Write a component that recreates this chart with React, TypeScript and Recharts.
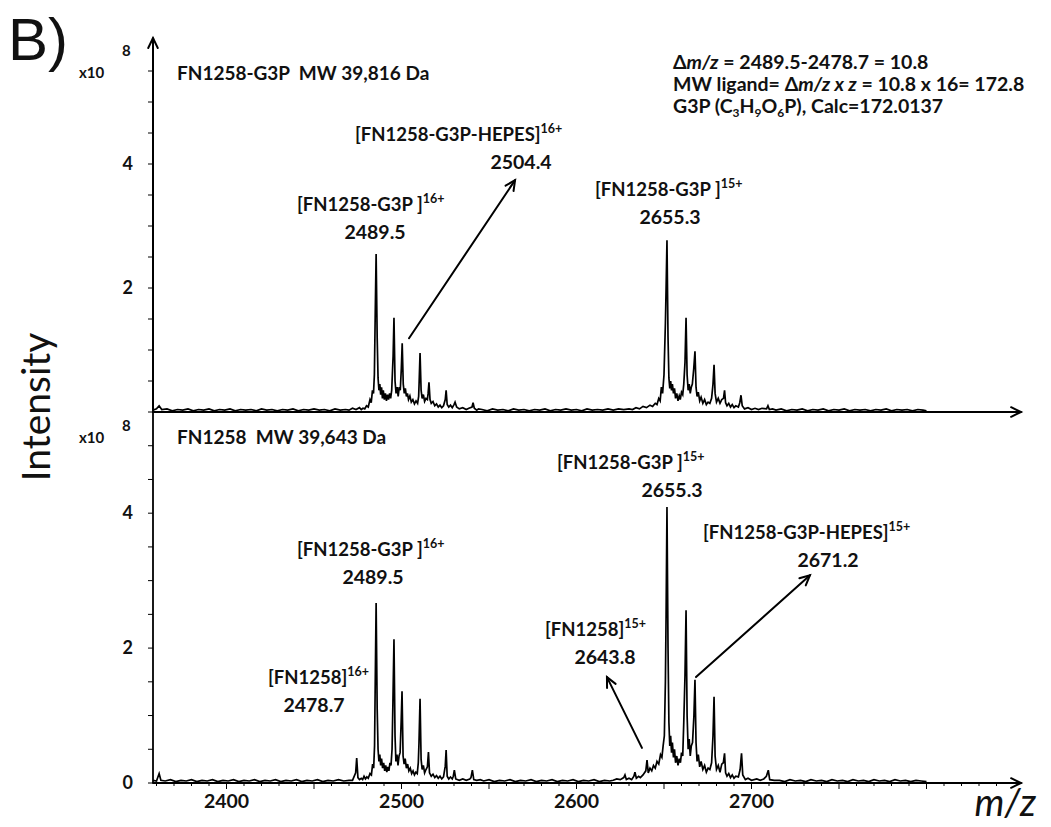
import { Line, LineChart, ReferenceLine, XAxis, YAxis } from "recharts";

// m/z axis
const X_DOMAIN = [2358, 2854];
const X_LABELS = [2400, 2500, 2600, 2700];
const X_MINOR_START = 2360;
const X_MINOR_END = 2840;

// intensity axes (x10^8)
const TOP_Y_DOMAIN = [0, 6];
const TOP_Y_LABELS = [2, 4];
const BOTTOM_Y_DOMAIN = [0, 5.5];
const BOTTOM_Y_LABELS = [0, 2, 4];

// FN1258-G3P spectrum, [m/z, intensity x10^8]
const topNoiseLeft = [
  [2358, 0.03], [2360, 0.05], [2361.5, 0.1], [2363, 0.04], [2366, 0.05], [2369, 0.02], [2372, 0.04],
  [2375, 0.03], [2378, 0.05], [2381, 0.02], [2384, 0.04], [2387, 0.03], [2390, 0.05], [2393, 0.02],
  [2396, 0.04], [2399, 0.03], [2402, 0.05], [2405, 0.02], [2408, 0.04], [2411, 0.03], [2414, 0.04],
  [2417, 0.02], [2420, 0.05], [2423, 0.03], [2426, 0.04], [2429, 0.02], [2432, 0.04], [2435, 0.03],
  [2438, 0.05], [2441, 0.02], [2444, 0.04], [2447, 0.03], [2450, 0.05], [2453, 0.03], [2456, 0.04],
  [2459, 0.02], [2462, 0.05], [2465, 0.03], [2468, 0.04],
];
const topCluster16 = [
  [2470, 0.03], [2472, 0.06], [2474, 0.04], [2476, 0.07], [2477, 0.04], [2478, 0.06], [2479, 0.05],
  [2480, 0.1], [2481, 0.08], [2482, 0.2], [2482.7, 0.15], [2483.4, 0.35], [2484, 0.3], [2484.5, 0.6],
  [2485, 1.6], [2485.5, 2.55], [2486.1, 1.2], [2486.6, 0.55], [2487.1, 0.35], [2487.6, 0.45],
  [2488.1, 0.28], [2488.6, 0.4], [2489.1, 0.22], [2489.6, 0.35], [2490.2, 0.2], [2490.8, 0.3],
  [2491.4, 0.18], [2492, 0.28], [2492.6, 0.2], [2493.2, 0.3], [2493.8, 0.22], [2494.4, 0.35],
  [2495.2, 0.9], [2495.7, 1.52], [2496.3, 0.5], [2496.9, 0.3], [2497.5, 0.4], [2498.1, 0.25],
  [2498.7, 0.4], [2499.3, 0.35], [2499.9, 0.7], [2500.4, 1.11], [2501, 0.45], [2501.6, 0.3],
  [2502.2, 0.38], [2502.8, 0.25], [2503.4, 0.3], [2504, 0.2], [2504.8, 0.26], [2505.6, 0.16],
  [2506.5, 0.2], [2507.4, 0.13], [2508.3, 0.18], [2509.2, 0.14], [2509.8, 0.25], [2510.1, 0.5],
  [2510.6, 0.95], [2511.2, 0.35], [2511.8, 0.22], [2512.5, 0.28], [2513.2, 0.17], [2514, 0.22],
  [2514.8, 0.2], [2515.2, 0.3], [2515.7, 0.48], [2516.3, 0.2], [2517, 0.14], [2518, 0.17],
  [2519, 0.1], [2520, 0.13], [2521, 0.08], [2522, 0.11], [2523, 0.07], [2524, 0.1], [2525, 0.2],
  [2525.5, 0.35], [2526.1, 0.12], [2527, 0.08], [2528, 0.11], [2529, 0.07], [2530, 0.12],
  [2530.6, 0.16], [2531.5, 0.08], [2533, 0.05], [2535, 0.07], [2537, 0.04], [2538.5, 0.06],
  [2540.3, 0.08], [2540.9, 0.15], [2541.6, 0.06], [2543, 0.03], [2544, 0.05],
];
const topNoiseMid = [
  [2546, 0.04], [2549, 0.02], [2552, 0.05], [2555, 0.03], [2558, 0.04], [2561, 0.02], [2564, 0.05],
  [2567, 0.03], [2570, 0.04], [2573, 0.02], [2576, 0.04], [2579, 0.03], [2582, 0.05], [2585, 0.02],
  [2588, 0.04], [2591, 0.03], [2594, 0.05], [2597, 0.03], [2600, 0.04], [2603, 0.02], [2606, 0.05],
  [2609, 0.03], [2612, 0.04], [2615, 0.03], [2618, 0.05], [2621, 0.03], [2624, 0.05], [2627, 0.04],
];
const topCluster15 = [
  [2630, 0.05], [2632, 0.04], [2634, 0.07], [2636, 0.05], [2638, 0.09], [2640, 0.07], [2642, 0.11],
  [2643.5, 0.09], [2645, 0.14], [2646, 0.12], [2647, 0.22], [2647.8, 0.18], [2648.5, 0.4],
  [2649.2, 0.3], [2650, 0.6], [2650.8, 1.43], [2651.2, 2.0], [2651.7, 2.77], [2652.3, 1.2],
  [2652.8, 0.55], [2653.3, 0.38], [2653.8, 0.5], [2654.3, 0.35], [2654.8, 0.45], [2655.4, 0.3],
  [2656, 0.38], [2656.6, 0.22], [2657.3, 0.3], [2658, 0.18], [2658.7, 0.26], [2659.3, 0.2],
  [2660, 0.32], [2660.7, 0.28], [2661.3, 0.45], [2662, 0.8], [2662.6, 1.52], [2663.2, 0.6],
  [2663.8, 0.35], [2664.4, 0.45], [2665, 0.3], [2665.6, 0.4], [2666.2, 0.45], [2667, 0.7],
  [2667.7, 0.98], [2668.3, 0.4], [2668.9, 0.25], [2669.6, 0.32], [2670.4, 0.18], [2671.2, 0.24],
  [2672.2, 0.14], [2673.2, 0.2], [2674.2, 0.12], [2675.2, 0.16], [2676.2, 0.14], [2677.2, 0.22],
  [2678, 0.45], [2678.6, 0.76], [2679.2, 0.3], [2680, 0.16], [2681, 0.22], [2682, 0.14],
  [2683, 0.2], [2684, 0.22], [2684.6, 0.35], [2685.2, 0.15], [2686, 0.1], [2687, 0.14], [2688, 0.08],
  [2689, 0.12], [2690, 0.07], [2691, 0.1], [2692.5, 0.08], [2693.3, 0.15], [2694, 0.27],
  [2694.7, 0.1], [2696, 0.05], [2698, 0.07], [2700, 0.04], [2702, 0.06], [2704, 0.04], [2706, 0.06],
  [2708.6, 0.05], [2709.4, 0.1], [2710.2, 0.04], [2712, 0.05],
];
const topNoiseRight = [
  [2714, 0.03], [2717, 0.05], [2720, 0.02], [2723, 0.04], [2726, 0.03], [2729, 0.05], [2732, 0.02],
  [2735, 0.04], [2738, 0.03], [2741, 0.05], [2744, 0.02], [2747, 0.04], [2750, 0.03], [2753, 0.05],
  [2756, 0.02], [2759, 0.04], [2762, 0.03], [2765, 0.04], [2768, 0.02], [2771, 0.04], [2774, 0.03],
  [2777, 0.05], [2780, 0.02], [2783, 0.04], [2786, 0.03], [2789, 0.04], [2792, 0.02], [2795, 0.04],
  [2798, 0.03], [2800, 0.02],
];

// FN1258 spectrum
const bottomNoiseLeft = [
  [2358, 0.04], [2360, 0.03], [2361.5, 0.14], [2362.5, 0.04], [2365, 0.03], [2368, 0.05], [2371, 0.02],
  [2374, 0.04], [2377, 0.03], [2380, 0.05], [2383, 0.02], [2386, 0.04], [2389, 0.03], [2392, 0.05],
  [2395, 0.02], [2398, 0.04], [2401, 0.03], [2404, 0.05], [2407, 0.02], [2410, 0.04], [2413, 0.03],
  [2416, 0.05], [2419, 0.02], [2422, 0.04], [2425, 0.03], [2428, 0.05], [2431, 0.02], [2434, 0.04],
  [2437, 0.03], [2440, 0.05], [2443, 0.02], [2446, 0.04], [2449, 0.03], [2452, 0.05], [2455, 0.02],
  [2458, 0.04], [2461, 0.03], [2464, 0.05], [2467, 0.03], [2470, 0.04],
];
const bottomCluster16 = [
  [2472, 0.04], [2473.8, 0.15], [2474.4, 0.37], [2475.1, 0.08], [2476, 0.05], [2477, 0.07],
  [2477.8, 0.05], [2478.6, 0.1], [2479.4, 0.06], [2480.2, 0.09], [2481, 0.07], [2482, 0.14],
  [2482.8, 0.12], [2483.5, 0.28], [2484.1, 0.22], [2484.6, 0.55], [2485, 1.5], [2485.5, 2.67],
  [2486.1, 1.1], [2486.6, 0.5], [2487.1, 0.32], [2487.6, 0.42], [2488.1, 0.26], [2488.6, 0.36],
  [2489.2, 0.22], [2489.8, 0.3], [2490.4, 0.18], [2491, 0.26], [2491.6, 0.16], [2492.2, 0.24],
  [2492.8, 0.18], [2493.4, 0.3], [2494, 0.26], [2494.6, 0.5], [2495.1, 1.2], [2495.7, 2.13],
  [2496.3, 0.7], [2496.8, 0.32], [2497.4, 0.42], [2498, 0.26], [2498.6, 0.4], [2499.2, 0.45],
  [2499.8, 0.9], [2500.3, 1.36], [2500.9, 0.4], [2501.5, 0.28], [2502.1, 0.36], [2502.8, 0.22],
  [2503.5, 0.28], [2504.2, 0.18], [2505, 0.22], [2505.8, 0.14], [2506.6, 0.18], [2507.4, 0.12],
  [2508.2, 0.16], [2509, 0.14], [2509.6, 0.3], [2510, 0.6], [2510.6, 1.25], [2511.2, 0.35],
  [2511.8, 0.2], [2512.5, 0.26], [2513.2, 0.15], [2514, 0.2], [2514.8, 0.24], [2515.4, 0.46],
  [2516, 0.15], [2517, 0.1], [2518, 0.13], [2519, 0.08], [2520, 0.11], [2521, 0.07], [2522, 0.1],
  [2523, 0.06], [2524, 0.09], [2525, 0.25], [2525.5, 0.49], [2526.1, 0.1], [2527, 0.06],
  [2528, 0.09], [2529, 0.06], [2529.6, 0.1], [2530.2, 0.19], [2531, 0.06], [2533, 0.04],
  [2535, 0.06], [2537, 0.04], [2539, 0.06], [2539.7, 0.08], [2540.5, 0.19], [2541.3, 0.05],
  [2543, 0.04], [2545, 0.05],
];
const bottomNoiseMid = [
  [2547, 0.03], [2550, 0.05], [2553, 0.02], [2556, 0.04], [2559, 0.03], [2562, 0.05], [2565, 0.02],
  [2568, 0.04], [2571, 0.03], [2574, 0.05], [2577, 0.02], [2580, 0.04], [2583, 0.03], [2586, 0.05],
  [2589, 0.02], [2592, 0.04], [2595, 0.03], [2598, 0.05], [2601, 0.02], [2604, 0.04], [2607, 0.03],
  [2610, 0.05], [2613, 0.02], [2616, 0.04], [2619, 0.03],
];
const bottomCluster15 = [
  [2621, 0.04], [2623, 0.06], [2625, 0.05], [2627, 0.08], [2627.7, 0.12], [2628.5, 0.05],
  [2630, 0.07], [2631.5, 0.05], [2632.8, 0.1], [2633.4, 0.16], [2634.2, 0.07], [2635.5, 0.1],
  [2636.5, 0.08], [2638, 0.12], [2639.6, 0.18], [2640.3, 0.34], [2641, 0.15], [2642, 0.22],
  [2643, 0.18], [2644, 0.26], [2645, 0.22], [2646, 0.32], [2647, 0.28], [2648, 0.42],
  [2648.8, 0.38], [2649.5, 0.55], [2650.2, 0.7], [2650.8, 1.5], [2651.2, 2.5], [2651.7, 4.09],
  [2652.3, 2.0], [2652.8, 0.9], [2653.3, 0.55], [2653.8, 0.7], [2654.3, 0.45], [2654.8, 0.6],
  [2655.4, 0.38], [2656, 0.5], [2656.6, 0.3], [2657.3, 0.4], [2658, 0.26], [2658.7, 0.36],
  [2659.4, 0.3], [2660, 0.45], [2660.7, 0.4], [2661.3, 0.9], [2662, 1.6], [2662.6, 2.56],
  [2663.2, 1.0], [2663.8, 0.5], [2664.4, 0.65], [2665, 0.4], [2665.6, 0.55], [2666.3, 0.6],
  [2667.1, 1.0], [2667.7, 1.53], [2668.3, 0.6], [2668.9, 0.32], [2669.6, 0.42], [2670.4, 0.24],
  [2671.2, 0.32], [2672.2, 0.2], [2673.2, 0.26], [2674.2, 0.16], [2675.2, 0.22], [2676.2, 0.2],
  [2677.2, 0.3], [2678, 0.7], [2678.6, 1.28], [2679.2, 0.4], [2680, 0.2], [2681, 0.26],
  [2682, 0.16], [2683, 0.28], [2683.9, 0.3], [2684.6, 0.44], [2685.2, 0.15], [2686, 0.1],
  [2687, 0.14], [2688, 0.08], [2689, 0.12], [2690, 0.07], [2691, 0.1], [2692.5, 0.09],
  [2693.5, 0.2], [2694.3, 0.44], [2695, 0.12], [2696.5, 0.05], [2698, 0.07], [2700, 0.04],
  [2703, 0.06], [2705, 0.04], [2707, 0.06], [2708.5, 0.1], [2709.6, 0.19], [2710.4, 0.05],
  [2713, 0.04],
];
const bottomNoiseRight = [
  [2716, 0.04], [2719, 0.02], [2722, 0.05], [2725, 0.03], [2728, 0.04], [2731, 0.02], [2734, 0.05],
  [2737, 0.03], [2740, 0.04], [2743, 0.02], [2746, 0.05], [2749, 0.03], [2752, 0.04], [2755, 0.02],
  [2758, 0.05], [2761, 0.03], [2764, 0.04], [2767, 0.02], [2770, 0.05], [2773, 0.03], [2776, 0.04],
  [2779, 0.02], [2782, 0.05], [2785, 0.03], [2788, 0.04], [2791, 0.02], [2794, 0.04], [2797, 0.03],
  [2800, 0.02],
];

const toRows = (parts: number[][][]) => parts.flat().map(([mz, i]) => ({ mz, i }));
const topData = toRows([topNoiseLeft, topCluster16, topNoiseMid, topCluster15, topNoiseRight]);
const bottomData = toRows([bottomNoiseLeft, bottomCluster16, bottomNoiseMid, bottomCluster15, bottomNoiseRight]);

const xTicks: number[] = [];
for (let v = X_MINOR_START; v <= X_MINOR_END; v += 10) xTicks.push(v);
const topYTicks = [0.5, 1, 1.5, 2, 2.5, 3, 3.5, 4, 4.5, 5, 5.5];
const bottomYTicks = [0, 0.5, 1, 1.5, 2, 2.5, 3, 3.5, 4, 4.5, 5, 5.5];

const FONT = "Lato, 'Open Sans', sans-serif";
const INK = "#111";

function Arrow(props: any) {
  const { x1, y1, x2, y2 } = props;
  const a = Math.atan2(y2 - y1, x2 - x1);
  const len = 11;
  const spread = 0.45;
  const h1x = x2 - len * Math.cos(a - spread);
  const h1y = y2 - len * Math.sin(a - spread);
  const h2x = x2 - len * Math.cos(a + spread);
  const h2y = y2 - len * Math.sin(a + spread);
  return (
    <g stroke="#000" strokeWidth={2} fill="none" strokeLinecap="round">
      <line x1={x1} y1={y1} x2={x2} y2={y2} />
      <polyline points={`${h1x},${h1y} ${x2},${y2} ${h2x},${h2y}`} />
    </g>
  );
}

function YTick(props: any) {
  const { x, y, payload, labels } = props;
  return (
    <g>
      <line x1={x} x2={x - 5} y1={y} y2={y} stroke="#000" strokeWidth={1} />
      {labels.includes(payload.value) && (
        <text x={x - 20} y={y + 6} textAnchor="end" fontFamily={FONT} fontWeight={700} fontSize={18} fill={INK}>
          {payload.value}
        </text>
      )}
    </g>
  );
}

function XTick(props: any) {
  const { x, y, payload } = props;
  const v = payload.value;
  const len = v % 50 === 0 ? 6 : 3;
  return (
    <g>
      <line x1={x} x2={x} y1={y} y2={y + len} stroke="#000" strokeWidth={1} />
      {X_LABELS.includes(v) && (
        <text x={x} y={y + 25} textAnchor="middle" fontFamily={FONT} fontWeight={700} fontSize={19.5} fill={INK}>
          {v}
        </text>
      )}
    </g>
  );
}

function PeakLabel({ x, y, name, charge, value, vx }: any) {
  return (
    <g fontFamily={FONT} fontWeight={700} fill={INK}>
      <text x={x} y={y} fontSize={18.5}>
        {name}
        <tspan fontSize={12.5} dy={-8}>
          {charge}
        </tspan>
      </text>
      <text x={vx} y={y + 28} fontSize={19.5} textAnchor="middle">
        {value}
      </text>
    </g>
  );
}

export default function App() {
  return (
    <div style={{ position: "absolute", left: 0, top: 0, width: 1051, height: 827, background: "#fff" }}>
      <div style={{ position: "absolute", left: 0, top: 0 }}>
        <LineChart width={1051} height={420} margin={{ top: 40, right: 30, bottom: 8, left: 93 }}>
          <XAxis type="number" dataKey="mz" domain={X_DOMAIN} allowDataOverflow hide />
          <YAxis
            type="number"
            domain={TOP_Y_DOMAIN}
            allowDataOverflow
            ticks={topYTicks}
            interval={0}
            width={60}
            tickSize={0}
            tickMargin={0}
            tickLine={false}
            axisLine={{ stroke: "#000", strokeWidth: 1.8 }}
            tick={(p: any) => <YTick {...p} labels={TOP_Y_LABELS} />}
          />
          <Line data={topData} dataKey="i" type="linear" dot={false} stroke="#000" strokeWidth={1.7} isAnimationActive={false} />
          <ReferenceLine ifOverflow="visible" segment={[{ x: 2358, y: 0 }, { x: 2854, y: 0 }]} shape={(p: any) => <Arrow {...p} />} />
          <ReferenceLine ifOverflow="visible" segment={[{ x: 2358, y: 0 }, { x: 2358, y: 6.03 }]} shape={(p: any) => <Arrow {...p} />} />
          <ReferenceLine ifOverflow="visible" segment={[{ x: 2504.3, y: 1.19 }, { x: 2564.9, y: 3.74 }]} shape={(p: any) => <Arrow {...p} />} />
        </LineChart>
      </div>
      <div style={{ position: "absolute", left: 0, top: 400 }}>
        <LineChart width={1051} height={427} margin={{ top: 12, right: 30, bottom: 14, left: 93 }}>
          <XAxis
            type="number"
            dataKey="mz"
            domain={X_DOMAIN}
            allowDataOverflow
            ticks={xTicks}
            interval={0}
            height={30}
            tickSize={0}
            tickMargin={0}
            tickLine={false}
            axisLine={{ stroke: "#000", strokeWidth: 1.8 }}
            tick={(p: any) => <XTick {...p} />}
          />
          <YAxis
            type="number"
            domain={BOTTOM_Y_DOMAIN}
            allowDataOverflow
            ticks={bottomYTicks}
            interval={0}
            width={60}
            tickSize={0}
            tickMargin={0}
            tickLine={false}
            axisLine={{ stroke: "#000", strokeWidth: 1.8 }}
            tick={(p: any) => <YTick {...p} labels={BOTTOM_Y_LABELS} />}
          />
          <Line data={bottomData} dataKey="i" type="linear" dot={false} stroke="#000" strokeWidth={1.7} isAnimationActive={false} />
          <ReferenceLine ifOverflow="visible" segment={[{ x: 2358, y: 0 }, { x: 2854, y: 0 }]} shape={(p: any) => <Arrow {...p} />} />
          <ReferenceLine ifOverflow="visible" segment={[{ x: 2637.4, y: 0.52 }, { x: 2617.4, y: 1.57 }]} shape={(p: any) => <Arrow {...p} />} />
          <ReferenceLine ifOverflow="visible" segment={[{ x: 2668.3, y: 1.57 }, { x: 2733.4, y: 3.08 }]} shape={(p: any) => <Arrow {...p} />} />
        </LineChart>
      </div>
      <svg width={1051} height={827} style={{ position: "absolute", left: 0, top: 0, pointerEvents: "none" }}>
        <text x={8} y={60} fontFamily="'Liberation Sans', Arial, sans-serif" fontSize={60} fill={INK}>
          B)
        </text>
        <text
          x={50}
          y={407}
          transform="rotate(-90 50 407)"
          textAnchor="middle"
          fontFamily={FONT}
          fontSize={39}
          fill={INK}
        >
          Intensity
        </text>
        <text x={1036} y={816} textAnchor="end" fontFamily={FONT} fontStyle="italic" fontSize={38} fill={INK}>
          m/z
        </text>

        <g fontFamily={FONT} fontWeight={700} fill={INK}>
          <text x={79} y={78} fontSize={15}>x10</text>
          <text x={122} y={56} fontSize={15}>8</text>
          <text x={79} y={443} fontSize={15}>x10</text>
          <text x={122} y={431} fontSize={15}>8</text>

          <text x={177} y={80} fontSize={19}>{"FN1258-G3P\u00a0\u00a0MW 39,816 Da"}</text>
          <text x={177} y={444} fontSize={19}>{"FN1258\u00a0\u00a0MW 39,643 Da"}</text>

          <text x={673} y={69} fontSize={19.5}>
            Δ<tspan fontStyle="italic">m/z</tspan> = 2489.5-2478.7 = 10.8
          </text>
          <text x={673} y={91} fontSize={19.5}>
            MW ligand= Δ<tspan fontStyle="italic">m/z x z</tspan> = 10.8 x 16= 172.8
          </text>
          <text x={673} y={113} fontSize={19.5}>
            G3P (C<tspan fontSize={12} dy={4}>3</tspan>
            <tspan dy={-4}>H</tspan>
            <tspan fontSize={12} dy={4}>9</tspan>
            <tspan dy={-4}>O</tspan>
            <tspan fontSize={12} dy={4}>6</tspan>
            <tspan dy={-4}>P), Calc=172.0137</tspan>
          </text>
        </g>

        <PeakLabel x={355} y={141} name="[FN1258-G3P-HEPES]" charge="16+" value="2504.4" vx={521} />
        <PeakLabel x={297} y={211} name="[FN1258-G3P ]" charge="16+" value="2489.5" vx={375} />
        <PeakLabel x={595} y={196} name="[FN1258-G3P ]" charge="15+" value="2655.3" vx={670} />

        <PeakLabel x={557} y={469} name="[FN1258-G3P ]" charge="15+" value="2655.3" vx={672} />
        <PeakLabel x={703} y={539} name="[FN1258-G3P-HEPES]" charge="15+" value="2671.2" vx={828} />
        <PeakLabel x={297} y={556} name="[FN1258-G3P ]" charge="16+" value="2489.5" vx={373} />
        <PeakLabel x={545} y={636} name="[FN1258]" charge="15+" value="2643.8" vx={605} />
        <PeakLabel x={268} y={684} name="[FN1258]" charge="16+" value="2478.7" vx={314} />
      </svg>
    </div>
  );
}
